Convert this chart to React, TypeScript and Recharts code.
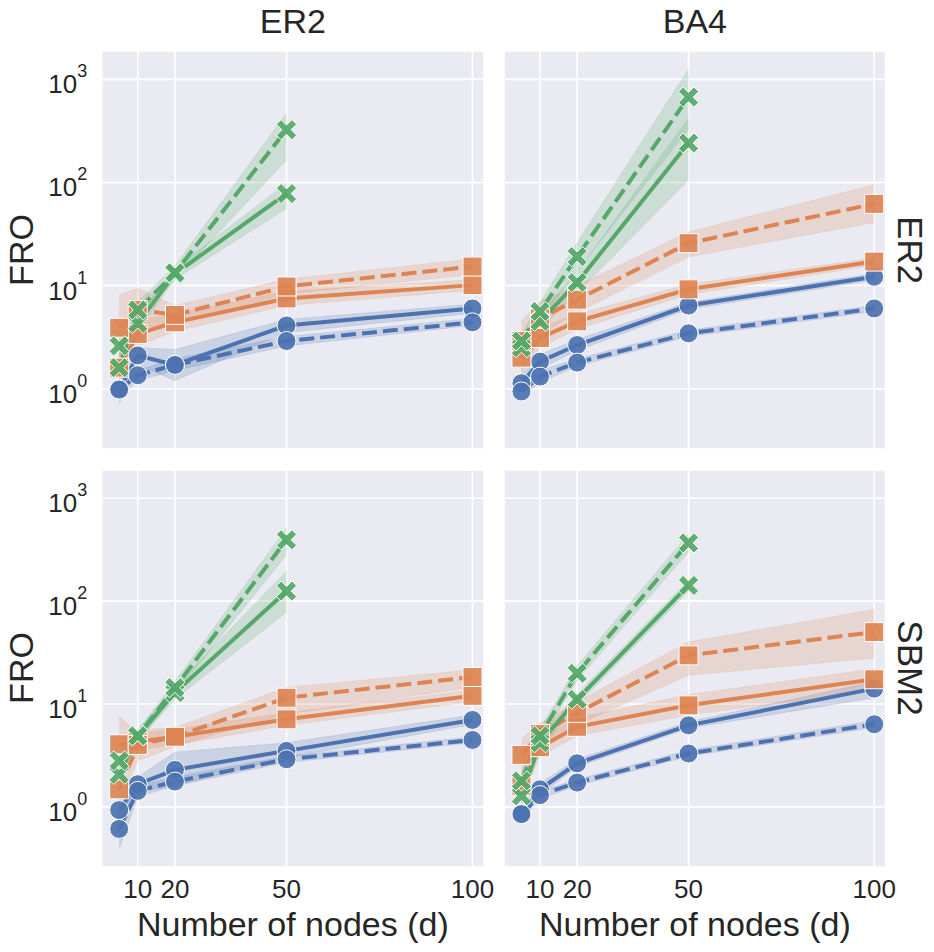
import React from "react";
import { ComposedChart, Line, Area, XAxis, YAxis, CartesianGrid } from "recharts";

// x values shared by every panel
const nodes = [5, 10, 20, 50, 100];
const xTicks = [10, 20, 50, 100];
const yTicks = [1, 10, 100, 1000];
const colTitles = ["ER2", "BA4"];
const rowTitles = ["ER2", "SBM2"];

type Ci = [number, number] | null;

// column ER2, row ER2
const erEr_blueSolid = [1.0, 2.1, 1.7, 4.1, 6.0];
const erEr_blueSolidCi: Ci[] = [[0.72, 1.3], [1.7, 2.5], [1.2, 2.4], [3.5, 4.7], [5.4, 6.6]];
const erEr_blueDashed = [0.98, 1.35, 1.7, 2.9, 4.4];
const erEr_blueDashedCi: Ci[] = [[0.8, 1.15], [1.2, 1.5], [1.5, 1.95], [2.6, 3.2], [4.1, 4.8]];
const erEr_orangeSolid = [1.6, 3.4, 4.4, 7.5, 10.1];
const erEr_orangeSolidCi: Ci[] = [[1.1, 2.3], [2.6, 4.6], [3.6, 5.3], [6.4, 8.8], [9.0, 11.4]];
const erEr_orangeDashed = [3.9, 5.8, 5.2, 9.8, 15.3];
const erEr_orangeDashedCi: Ci[] = [[2.0, 8.1], [3.8, 9.4], [4.3, 6.4], [8.3, 11.5], [12.8, 18.2]];
const erEr_greenSolid = [2.6, 4.3, 13.0, 78, null];
const erEr_greenSolidCi: Ci[] = [[2.1, 3.2], [3.6, 5.0], [11.5, 14.7], [56, 98], null];
const erEr_greenDashed = [1.6, 5.8, 13.3, 325, null];
const erEr_greenDashedCi: Ci[] = [[1.3, 2.0], [4.9, 6.9], [11.5, 15.5], [166, 470], null];

// column BA4, row ER2
const baEr_blueSolid = [1.13, 1.83, 2.65, 6.4, 12.2];
const baEr_blueSolidCi: Ci[] = [[0.95, 1.35], [1.55, 2.15], [2.35, 3.0], [5.9, 6.9], [11.3, 13.1]];
const baEr_blueDashed = [0.94, 1.31, 1.79, 3.44, 6.0];
const baEr_blueDashedCi: Ci[] = [[0.85, 1.05], [1.15, 1.5], [1.65, 1.95], [3.2, 3.7], [5.6, 6.4]];
const baEr_orangeSolid = [2.0, 3.1, 4.5, 9.2, 17.1];
const baEr_orangeSolidCi: Ci[] = [[1.5, 2.6], [2.5, 3.9], [3.8, 5.3], [8.2, 10.3], [15.8, 18.5]];
const baEr_orangeDashed = [2.9, 4.8, 7.3, 25.8, 62];
const baEr_orangeDashedCi: Ci[] = [[1.3, 4.5], [3.3, 7.0], [5.5, 10.0], [19, 33], [41, 95]];
const baEr_greenSolid = [2.5, 4.5, 10.7, 241, null];
const baEr_greenSolidCi: Ci[] = [[2.1, 3.0], [3.8, 5.3], [8.5, 13.5], [106, 420], null];
const baEr_greenDashed = [2.9, 5.6, 19.1, 673, null];
const baEr_greenDashedCi: Ci[] = [[2.4, 3.4], [4.6, 6.8], [14, 26], [330, 1260], null];

// column ER2, row SBM2
const erSbm_blueSolid = [0.93, 1.66, 2.29, 3.5, 7.0];
const erSbm_blueSolidCi: Ci[] = [[0.6, 1.3], [1.4, 1.95], [1.6, 3.4], [3.0, 4.2], [6.3, 7.8]];
const erSbm_blueDashed = [0.61, 1.43, 1.76, 2.9, 4.47];
const erSbm_blueDashedCi: Ci[] = [[0.39, 0.9], [1.25, 1.6], [1.6, 1.95], [2.7, 3.1], [4.2, 4.8]];
const erSbm_orangeSolid = [4.06, 4.3, 4.8, 7.1, 12.0];
const erSbm_orangeSolidCi: Ci[] = [[2.8, 7.6], [3.6, 5.2], [4.0, 5.7], [6.2, 8.2], [10.5, 13.6]];
const erSbm_orangeDashed = [1.48, 4.0, 4.8, 11.5, 18.3];
const erSbm_orangeDashedCi: Ci[] = [[1.1, 2.2], [2.8, 5.6], [3.9, 5.9], [8.0, 14.5], [14.5, 21.5]];
const erSbm_greenSolid = [2.07, 4.9, 12.9, 125, null];
const erSbm_greenSolidCi: Ci[] = [[1.7, 2.5], [4.3, 5.5], [11.2, 14.8], [78, 195], null];
const erSbm_greenDashed = [2.8, 4.9, 14.4, 395, null];
const erSbm_greenDashedCi: Ci[] = [[2.3, 3.4], [4.3, 5.6], [12.5, 16.5], [284, 515], null];

// column BA4, row SBM2
const baSbm_blueSolid = [0.85, 1.48, 2.65, 6.2, 14.1];
const baSbm_blueSolidCi: Ci[] = [[0.75, 1.0], [1.3, 1.7], [2.45, 2.9], [5.8, 6.7], [11.5, 16.5]];
const baSbm_blueDashed = [0.85, 1.3, 1.72, 3.3, 6.35];
const baSbm_blueDashedCi: Ci[] = [[0.75, 0.95], [1.2, 1.42], [1.6, 1.85], [3.1, 3.55], [5.9, 6.9]];
const baSbm_orangeSolid = [1.6, 3.8, 6.0, 9.7, 17.4];
const baSbm_orangeSolidCi: Ci[] = [[1.2, 2.2], [3.1, 4.6], [4.9, 7.3], [7.8, 12.3], [13.5, 22]];
const baSbm_orangeDashed = [3.2, 5.1, 8.2, 29.7, 50];
const baSbm_orangeDashedCi: Ci[] = [[2.2, 4.6], [4.0, 6.5], [6.3, 10.6], [19, 40], [28, 83]];
const baSbm_greenSolid = [1.28, 4.2, 11.1, 142, null];
const baSbm_greenSolidCi: Ci[] = [[1.1, 1.5], [3.6, 4.9], [9.8, 12.5], [125, 160], null];
const baSbm_greenDashed = [1.79, 4.9, 19.9, 368, null];
const baSbm_greenDashedCi: Ci[] = [[1.5, 2.1], [4.2, 5.7], [17, 23.5], [300, 450], null];

const BLUE = "#4C72B0";
const ORANGE = "#DD8452";
const GREEN = "#55A868";
const TEXT = "#262626";
const FONT = "'Liberation Sans', Arial, Helvetica, sans-serif";

const styles = [
  { key: "blueSolid", color: BLUE, dash: undefined, marker: "circle" },
  { key: "blueDashed", color: BLUE, dash: "15 6", marker: "circle" },
  { key: "orangeSolid", color: ORANGE, dash: undefined, marker: "square" },
  { key: "orangeDashed", color: ORANGE, dash: "15 6", marker: "square" },
  { key: "greenSolid", color: GREEN, dash: undefined, marker: "x" },
  { key: "greenDashed", color: GREEN, dash: "15 6", marker: "x" },
];

function buildRows(means: (number | null)[][], cis: Ci[][]) {
  return nodes.map((d, i) => {
    const row: any = { d };
    styles.forEach((s, k) => {
      row[s.key] = means[k][i];
      row[s.key + "Ci"] = cis[k][i];
    });
    return row;
  });
}

const panelRows = [
  buildRows(
    [erEr_blueSolid, erEr_blueDashed, erEr_orangeSolid, erEr_orangeDashed, erEr_greenSolid, erEr_greenDashed],
    [erEr_blueSolidCi, erEr_blueDashedCi, erEr_orangeSolidCi, erEr_orangeDashedCi, erEr_greenSolidCi, erEr_greenDashedCi]
  ),
  buildRows(
    [baEr_blueSolid, baEr_blueDashed, baEr_orangeSolid, baEr_orangeDashed, baEr_greenSolid, baEr_greenDashed],
    [baEr_blueSolidCi, baEr_blueDashedCi, baEr_orangeSolidCi, baEr_orangeDashedCi, baEr_greenSolidCi, baEr_greenDashedCi]
  ),
  buildRows(
    [erSbm_blueSolid, erSbm_blueDashed, erSbm_orangeSolid, erSbm_orangeDashed, erSbm_greenSolid, erSbm_greenDashed],
    [erSbm_blueSolidCi, erSbm_blueDashedCi, erSbm_orangeSolidCi, erSbm_orangeDashedCi, erSbm_greenSolidCi, erSbm_greenDashedCi]
  ),
  buildRows(
    [baSbm_blueSolid, baSbm_blueDashed, baSbm_orangeSolid, baSbm_orangeDashed, baSbm_greenSolid, baSbm_greenDashed],
    [baSbm_blueSolidCi, baSbm_blueDashedCi, baSbm_orangeSolidCi, baSbm_orangeDashedCi, baSbm_greenSolidCi, baSbm_greenDashedCi]
  ),
];

// filled "X" marker: a plus sign turned 45 degrees
function xPath(cx: number, cy: number) {
  const L = 11;
  const w = 3.3;
  const pts = [
    [w, L], [w, w], [L, w], [L, -w], [w, -w], [w, -L],
    [-w, -L], [-w, -w], [-L, -w], [-L, w], [-w, w], [-w, L],
  ];
  const c = Math.SQRT1_2;
  return (
    pts
      .map(([px, py], i) => {
        const rx = (px - py) * c;
        const ry = (px + py) * c;
        return `${i === 0 ? "M" : "L"}${cx + rx},${cy + ry}`;
      })
      .join(" ") + " Z"
  );
}

function renderMarker(props: any, marker: string, color: string) {
  const { cx, cy, index } = props;
  if (cx == null || cy == null || isNaN(cx) || isNaN(cy) || props.value == null) {
    return <g key={`m-${index}`} />;
  }
  const common = { fill: color, stroke: "#fff", strokeWidth: 1, fillOpacity: 0.92 };
  if (marker === "circle") return <circle key={`m-${index}`} cx={cx} cy={cy} r={9.5} {...common} />;
  if (marker === "square")
    return <rect key={`m-${index}`} x={cx - 9.5} y={cy - 9.5} width={19} height={19} {...common} />;
  return <path key={`m-${index}`} d={xPath(cx, cy)} {...common} />;
}

function YTick(props: any) {
  const { x, y, payload } = props;
  const exp = Math.round(Math.log10(payload.value));
  return (
    <text x={x - 14.5} y={y + 14} textAnchor="end" fill={TEXT} fontSize={26} fontFamily={FONT}>
      10
      <tspan dy={-16} fontSize={18}>
        {exp}
      </tspan>
    </text>
  );
}

function XTick(props: any) {
  const { x, y, payload } = props;
  return (
    <text x={x} y={y + 31} textAnchor="middle" fill={TEXT} fontSize={26} fontFamily={FONT}>
      {payload.value}
    </text>
  );
}

function Panel({ rows, showX, showY, width, height, margin }: any) {
  return (
    <ComposedChart width={width} height={height} data={rows} margin={margin}>
      <CartesianGrid stroke="#ffffff" strokeWidth={1.6} fill="#EAEAF2" fillOpacity={1} />
      <XAxis
        dataKey="d"
        type="number"
        domain={[0.3, 103.1]}
        ticks={xTicks}
        allowDataOverflow
        hide={!showX}
        height={showX ? 40 : 0}
        axisLine={false}
        tickLine={false}
        tickSize={0}
        tickMargin={0}
        tick={<XTick />}
        interval={0}
      />
      <YAxis
        type="number"
        scale="log"
        domain={[0.26, 1884]}
        ticks={yTicks}
        allowDataOverflow
        hide={!showY}
        width={showY ? 101.7 : 0}
        axisLine={false}
        tickLine={false}
        tickSize={0}
        tickMargin={0}
        tick={<YTick />}
        interval={0}
      />
      {styles.map((s) => (
        <Area
          key={s.key + "Ci"}
          dataKey={s.key + "Ci"}
          type="linear"
          fill={s.color}
          fillOpacity={0.2}
          stroke={s.color}
          strokeOpacity={0.15}
          strokeWidth={1}
          dot={false}
          activeDot={false}
          isAnimationActive={false}
        />
      ))}
      {styles.map((s) => (
        <Line
          key={s.key}
          dataKey={s.key}
          type="linear"
          stroke={s.color}
          strokeWidth={4}
          strokeDasharray={s.dash}
          dot={(p: any) => renderMarker(p, s.marker, s.color)}
          activeDot={false}
          isAnimationActive={false}
        />
      ))}
    </ComposedChart>
  );
}

export default function App() {
  const topH = 455;
  const botTop = 460;
  const botH = 492;
  return (
    <div style={{ position: "absolute", left: 0, top: 0, width: 934, height: 952, background: "#fff" }}>
      <div style={{ position: "absolute", left: 0, top: 0 }}>
        <Panel rows={panelRows[0]} showX={false} showY width={490} height={topH}
          margin={{ top: 51, right: 6, bottom: 6, left: 0 }} />
      </div>
      <div style={{ position: "absolute", left: 490, top: 0 }}>
        <Panel rows={panelRows[1]} showX={false} showY={false} width={444} height={topH}
          margin={{ top: 51, right: 48.3, bottom: 6, left: 14 }} />
      </div>
      <div style={{ position: "absolute", left: 0, top: botTop }}>
        <Panel rows={panelRows[2]} showX showY width={512} height={botH}
          margin={{ top: 10, right: 28, bottom: 45, left: 0 }} />
      </div>
      <div style={{ position: "absolute", left: 490, top: botTop }}>
        <Panel rows={panelRows[3]} showX showY={false} width={444} height={botH}
          margin={{ top: 10, right: 48.3, bottom: 45, left: 14 }} />
      </div>
      <svg width={934} height={952} style={{ position: "absolute", left: 0, top: 0, pointerEvents: "none" }}
        fontFamily={FONT} fill={TEXT}>
        <text x={292.85} y={33} textAnchor="middle" fontSize={34}>{colTitles[0]}</text>
        <text x={694.85} y={33} textAnchor="middle" fontSize={34}>{colTitles[1]}</text>
        <text transform="translate(898,250) rotate(90)" textAnchor="middle" fontSize={35}>{rowTitles[0]}</text>
        <text transform="translate(898,668) rotate(90)" textAnchor="middle" fontSize={35}>{rowTitles[1]}</text>
        <text transform="translate(33,250) rotate(-90)" textAnchor="middle" fontSize={34}>FRO</text>
        <text transform="translate(33,668) rotate(-90)" textAnchor="middle" fontSize={34}>FRO</text>
        <text x={292.85} y={936} textAnchor="middle" fontSize={34}>Number of nodes (d)</text>
        <text x={694.85} y={936} textAnchor="middle" fontSize={34}>Number of nodes (d)</text>
      </svg>
    </div>
  );
}
